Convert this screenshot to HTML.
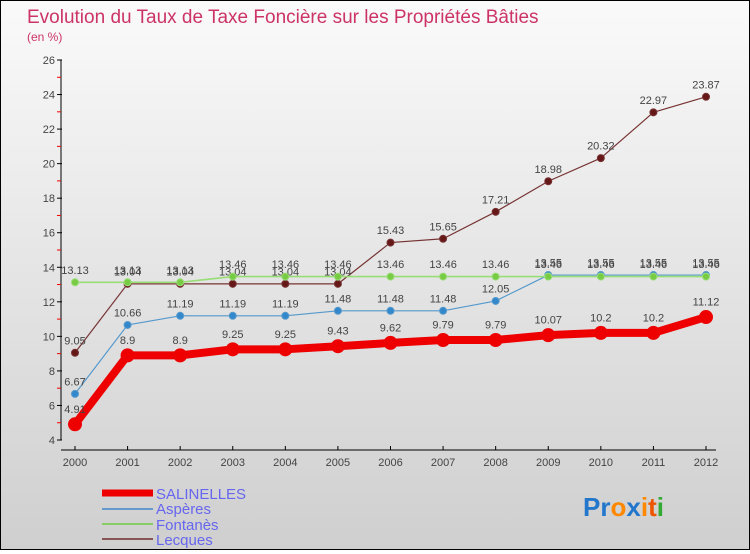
<!DOCTYPE html>
<html><head><meta charset="utf-8"><style>
html,body{margin:0;padding:0}
body{width:750px;height:550px;overflow:hidden;font-family:"Liberation Sans",sans-serif}
#wrap{position:relative;width:748px;height:548px;border:1px solid #000;background:linear-gradient(#fafafa,#cfcfcf)}
</style></head><body>
<div id="wrap">
<svg id="chart" width="748" height="548" xmlns="http://www.w3.org/2000/svg">
<text x="26" y="22" font-size="19" fill="#cc3366">Evolution du Taux de Taxe Foncière sur les Propriétés Bâties</text>
<text x="26" y="40" font-size="12" fill="#cc3366">(en %)</text>
<g id="axes"></g>
<g id="series"></g>
<g id="legend">
<line x1="101" y1="492" x2="152" y2="492" stroke="#ee0000" stroke-width="7"/>
<text x="155" y="498" font-size="15" fill="#6666ee">SALINELLES</text>
<line x1="101" y1="508" x2="152" y2="508" stroke="#6699cc" stroke-width="2"/>
<text x="155" y="513" font-size="15" fill="#6666ee">Aspères</text>
<line x1="101" y1="523" x2="152" y2="523" stroke="#88cc66" stroke-width="2"/>
<text x="155" y="529" font-size="15" fill="#6666ee">Fontanès</text>
<line x1="101" y1="538" x2="152" y2="538" stroke="#885555" stroke-width="2"/>
<text x="155" y="544" font-size="15" fill="#6666ee">Lecques</text>
</g>
<g font-size="26" font-weight="bold">
<text x="582" y="515"><tspan fill="#2277cc">Pr</tspan><tspan fill="#ff8800">o</tspan><tspan fill="#2277cc">x</tspan><tspan fill="#ff8800">i</tspan><tspan fill="#ee5500">t</tspan><tspan fill="#33aa33">i</tspan></text>
</g>
</svg>
</div>
<script>
const years = ["2000","2001","2002","2003","2004","2005","2006","2007","2008","2009","2010","2011","2012"];
const yTicks = [4,6,8,10,12,14,16,18,20,22,24,26];
const salinelles = [4.91,8.9,8.9,9.25,9.25,9.43,9.62,9.79,9.79,10.07,10.2,10.2,11.12];
const asperes = [6.67,10.66,11.19,11.19,11.19,11.48,11.48,11.48,12.05,13.55,13.55,13.55,13.55];
const fontanes = [13.13,13.13,13.13,13.46,13.46,13.46,13.46,13.46,13.46,13.46,13.46,13.46,13.46];
const lecques = [9.05,13.04,13.04,13.04,13.04,13.04,15.43,15.65,17.21,18.98,20.32,22.97,23.87];

const NS="http://www.w3.org/2000/svg";
const yMin=4,yMax=26,py0=439,py1=59,px0=74,px1=705;
function sy(v){return py0-(v-yMin)/(yMax-yMin)*(py0-py1);}
function sx(i){return px0+i*(px1-px0)/(years.length-1);}
function mk(tag,attrs,parent){const e=document.createElementNS(NS,tag);for(const k in attrs)e.setAttribute(k,attrs[k]);parent.appendChild(e);return e;}
const axes=document.getElementById('axes');
const ser=document.getElementById('series');

let yl=mk('line',{x1:60,y1:py1,x2:60,y2:py0,stroke:'#000','stroke-width':1},axes);


yTicks.forEach(t=>{
  mk('line',{x1:56,y1:sy(t),x2:61,y2:sy(t),stroke:'#000'},axes);
  if(t<yMax){const m=mk('line',{x1:56,y1:sy(t+1),x2:60,y2:sy(t+1),stroke:'#ee0000'},axes);}
  const tx=mk('text',{x:54,y:sy(t)+4,'font-size':11,fill:'#444','text-anchor':'end'},axes);
  tx.textContent=t;
  
  
});
let xl=mk('line',{x1:60,y1:449,x2:px1+10,y2:449,stroke:'#000'},axes);


years.forEach((y,i)=>{
  mk('line',{x1:sx(i),y1:445,x2:sx(i),y2:449,stroke:'#000'},axes);
  const tx=mk('text',{x:sx(i),y:465,'font-size':11,fill:'#444','text-anchor':'middle'},axes);
  tx.textContent=y;
  
  
});

function draw(name,data,color,w,r,ptFill){
  const g=mk('g',{},ser);
  
  
  const pl=mk('polyline',{points:data.map((v,i)=>sx(i)+','+sy(v)).join(' '),fill:'none',stroke:color,'stroke-width':w,'stroke-linejoin':'round'},g);
  
  
  data.forEach((v,i)=>{
    const c=mk('circle',{cx:sx(i),cy:sy(v),r:r,fill:ptFill,stroke:color,'stroke-width':1},g);
    
    
    const t=mk('text',{x:sx(i),y:sy(v)-(r+5),'font-size':11,fill:'#444','text-anchor':'middle'},g);
    t.textContent=String(v);
    
    
  });
}
draw('lecques',lecques,'#773333',1.2,3.5,'#661818');
draw('asperes',asperes,'#5599cc',1.2,3.5,'#3388cc');
draw('fontanes',fontanes,'#99dd77',1.6,3.5,'#77cc44');
draw('salinelles',salinelles,'#ee0000',8,6.5,'#ee0000');
</script>
</body></html>
